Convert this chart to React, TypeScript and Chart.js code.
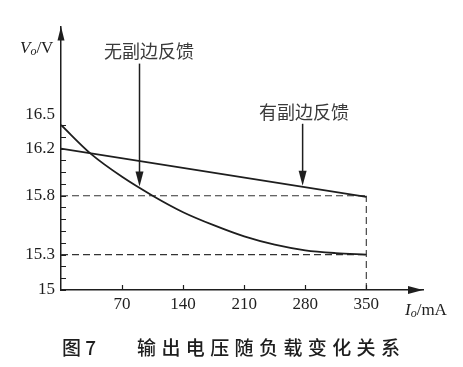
import React, { useEffect, useRef } from 'react';
import { Chart, LineController, LineElement, PointElement, LinearScale } from 'chart.js';

// ---- data ----
const LOAD_MA = [0, 35, 70, 105, 140, 175, 210, 245, 280, 315, 350];
const VOUT_NO_FEEDBACK = [16.5, 16.15, 15.96, 15.8, 15.66, 15.55, 15.455, 15.385, 15.337, 15.313, 15.3];
const LOAD_FEEDBACK = [0, 350];
const VOUT_FEEDBACK = [16.2, 15.79];
const GUIDE_LEVELS = [15.8, 15.3];
const GUIDE_LOAD_END = 350;
const X_TICKS = [70, 140, 210, 280, 350];
const Y_TICKS = [15, 15.1, 15.2, 15.3, 15.4, 15.5, 15.6, 15.7, 15.8, 15.9, 16, 16.1, 16.2, 16.35, 16.5];
const Y_TICK_LABELS = [15, 15.3, 15.8, 16.2, 16.5];
const X_MIN = 0;
const X_MAX = 415;
const Y_MIN = 15;
const Y_MAX = 17.336;
// the reference's y axis is compressed between 16.2 and 16.5
const Y_BREAK_LOW = 16.2;
const Y_BREAK_HIGH = 16.5;
const Y_BREAK_RATIO = 2 / 3;

const ANNOTATIONS = [
  { text: '无副边反馈', load: 90, series: 'none', labelDx: 9.5, labelRise: 135 },
  { text: '有副边反馈', load: 277, series: 'fb', labelDx: 1.5, labelRise: 74 },
];
const CAPTION_FIG = '图 7';
const CAPTION_TEXT = '输出电压随负载变化关系';

const INK = '#1e1e1e';

function toVisual(v: number) {
  if (v <= Y_BREAK_LOW) return v;
  const hiV = Y_BREAK_LOW + (Y_BREAK_HIGH - Y_BREAK_LOW) * Y_BREAK_RATIO;
  if (v <= Y_BREAK_HIGH) return Y_BREAK_LOW + (v - Y_BREAK_LOW) * Y_BREAK_RATIO;
  return hiV + (v - Y_BREAK_HIGH);
}
function fromVisual(u: number) {
  const hiV = Y_BREAK_LOW + (Y_BREAK_HIGH - Y_BREAK_LOW) * Y_BREAK_RATIO;
  if (u <= Y_BREAK_LOW) return u;
  if (u <= hiV) return Y_BREAK_LOW + (u - Y_BREAK_LOW) / Y_BREAK_RATIO;
  return Y_BREAK_HIGH + (u - hiV);
}

class BrokenLinearScale extends LinearScale {
  static id = 'brokenLinear';
  static defaults = LinearScale.defaults;
  getPixelForValue(value: any) {
    if (value === null || value === undefined) return NaN;
    const a = toVisual(this.min);
    const b = toVisual(this.max);
    return this.getPixelForDecimal((toVisual(value) - a) / (b - a));
  }
  getValueForPixel(pixel: number) {
    const a = toVisual(this.min);
    const b = toVisual(this.max);
    return fromVisual(a + this.getDecimalForPixel(pixel) * (b - a));
  }
}

Chart.register(LineController, LineElement, PointElement, LinearScale, BrokenLinearScale as any);

function interp(xs: number[], ys: number[], x: number) {
  for (let i = 0; i < xs.length - 1; i++) {
    if (x >= xs[i] && x <= xs[i + 1]) {
      const t = (x - xs[i]) / (xs[i + 1] - xs[i]);
      return ys[i] + t * (ys[i + 1] - ys[i]);
    }
  }
  return ys[ys.length - 1];
}

function drawSubscriptTitle(ctx: CanvasRenderingContext2D, x: number, y: number, main: string, sub: string, rest: string) {
  ctx.textBaseline = 'alphabetic';
  ctx.textAlign = 'left';
  ctx.font = 'italic 17px "Liberation Serif"';
  ctx.fillText(main, x, y);
  let cx = x + ctx.measureText(main).width;
  ctx.font = 'italic 12px "Liberation Serif"';
  ctx.fillText(sub, cx, y + 2);
  cx += ctx.measureText(sub).width;
  ctx.font = '17px "Liberation Serif"';
  ctx.fillText(rest, cx, y);
}

const decorPlugin = {
  id: 'decor',
  afterDraw(chart: any) {
    const { ctx } = chart;
    const { left, right, top, bottom } = chart.chartArea;
    const xs = chart.scales.x;
    const ys = chart.scales.y;
    ctx.save();
    ctx.strokeStyle = INK;
    ctx.fillStyle = INK;
    ctx.lineWidth = 1.2;

    // inward tick marks
    ctx.beginPath();
    ys.ticks.forEach((t: any) => {
      const p = Math.round(ys.getPixelForValue(t.value)) + 0.5;
      ctx.moveTo(left, p);
      ctx.lineTo(left + 5, p);
    });
    xs.ticks.forEach((t: any) => {
      const p = Math.round(xs.getPixelForValue(t.value)) + 0.5;
      ctx.moveTo(p, bottom);
      ctx.lineTo(p, bottom - 5);
    });
    ctx.stroke();

    // axis arrow heads
    ctx.beginPath();
    ctx.moveTo(left, top);
    ctx.lineTo(left - 3.5, top + 14);
    ctx.lineTo(left + 3.5, top + 14);
    ctx.closePath();
    ctx.fill();
    ctx.beginPath();
    ctx.moveTo(right, bottom);
    ctx.lineTo(right - 15, bottom - 4);
    ctx.lineTo(right - 15, bottom + 4);
    ctx.closePath();
    ctx.fill();

    // axis titles
    drawSubscriptTitle(ctx, left - 41, top + 27, 'V', 'o', '/V');
    drawSubscriptTitle(ctx, right - 18, bottom + 25, 'I', 'o', '/mA');

    // annotation arrows
    ANNOTATIONS.forEach((a) => {
      const v = a.series === 'none'
        ? interp(LOAD_MA, VOUT_NO_FEEDBACK, a.load)
        : interp(LOAD_FEEDBACK, VOUT_FEEDBACK, a.load);
      const px = xs.getPixelForValue(a.load);
      const tip = ys.getPixelForValue(v) - 1;
      const labelY = tip - a.labelRise;
      ctx.fillStyle = '#3a3a3a';
      ctx.font = '18px "Noto Sans CJK SC"';
      ctx.textAlign = 'center';
      ctx.textBaseline = 'middle';
      ctx.fillText(a.text, px + a.labelDx, labelY);
      ctx.strokeStyle = INK;
      ctx.fillStyle = INK;
      ctx.lineWidth = 1.5;
      ctx.beginPath();
      ctx.moveTo(px, labelY + 12);
      ctx.lineTo(px, tip - 10);
      ctx.stroke();
      ctx.beginPath();
      ctx.moveTo(px, tip);
      ctx.lineTo(px - 4, tip - 15);
      ctx.lineTo(px + 4, tip - 15);
      ctx.closePath();
      ctx.fill();
    });

    // caption
    ctx.fillStyle = INK;
    ctx.font = '500 19px "Noto Sans CJK SC"';
    ctx.textAlign = 'left';
    ctx.textBaseline = 'middle';
    ctx.fillText(CAPTION_FIG, left + 1, 348);
    (ctx as any).letterSpacing = '5.4px';
    ctx.fillText(CAPTION_TEXT, left + 76, 348);
    (ctx as any).letterSpacing = '0px';
    ctx.restore();
  },
};

export default function App() {
  const ref = useRef<HTMLCanvasElement | null>(null);

  useEffect(() => {
    if (!ref.current) return;
    const noFb = LOAD_MA.map((x, i) => ({ x, y: VOUT_NO_FEEDBACK[i] }));
    const fb = LOAD_FEEDBACK.map((x, i) => ({ x, y: VOUT_FEEDBACK[i] }));
    const guides = GUIDE_LEVELS.map((lvl) => ({
      data: [{ x: X_MIN, y: lvl }, { x: GUIDE_LOAD_END, y: lvl }],
    }));
    const vGuide = [{ x: GUIDE_LOAD_END, y: Y_MIN }, { x: GUIDE_LOAD_END, y: Math.max(...GUIDE_LEVELS) }];

    const dashed = {
      borderColor: '#333',
      borderWidth: 1.1,
      borderDash: [7, 4],
      pointRadius: 0,
      fill: false,
    };

    const chart = new Chart(ref.current, {
      type: 'line',
      data: {
        datasets: [
          { label: '无副边反馈', data: noFb, borderColor: INK, borderWidth: 1.8, pointRadius: 0, cubicInterpolationMode: 'monotone', fill: false },
          { label: '有副边反馈', data: fb, borderColor: INK, borderWidth: 1.8, pointRadius: 0, fill: false },
          ...guides.map((g) => ({ ...dashed, data: g.data })),
          { ...dashed, data: vGuide },
        ] as any,
      },
      options: {
        animation: false,
        responsive: false,
        events: [],
        layout: { padding: { left: 0, top: 15, right: 40, bottom: 0 } },
        plugins: { legend: { display: false }, tooltip: { enabled: false } } as any,
        scales: {
          x: {
            type: 'linear',
            min: X_MIN,
            max: X_MAX,
            grid: { display: false, drawTicks: false },
            border: { display: true, color: INK, width: 1.5 },
            afterBuildTicks: (s: any) => { s.ticks = X_TICKS.map((v) => ({ value: v })); },
            afterFit: (s: any) => { s.height = 77; },
            ticks: {
              autoSkip: false,
              maxRotation: 0,
              padding: 4,
              color: INK,
              font: { family: '"Liberation Serif"', size: 17 },
              callback: (v: any) => String(v),
            },
          },
          y: {
            type: 'brokenLinear' as any,
            min: Y_MIN,
            max: Y_MAX,
            grid: { display: false, drawTicks: false },
            border: { display: true, color: INK, width: 1.5 },
            afterBuildTicks: (s: any) => { s.ticks = Y_TICKS.map((v) => ({ value: v })); },
            afterFit: (s: any) => { s.width = 61; },
            ticks: {
              autoSkip: false,
              padding: 6,
              color: INK,
              font: { family: '"Liberation Serif"', size: 17 },
              callback: (v: any) => {
                const hit = Y_TICK_LABELS.find((l) => Math.abs(l - v) < 1e-6);
                if (hit === undefined) return '';
                return hit === Y_BREAK_HIGH ? [String(hit), ''] : String(hit);
              },
            },
          } as any,
        },
      } as any,
      plugins: [decorPlugin],
    });
    return () => chart.destroy();
  }, []);

  return (
    <div style={{ position: 'fixed', left: 0, top: 0, width: 463, height: 367, background: '#fff' }}>
      <canvas ref={ref} width={463} height={367} style={{ display: 'block', width: 463, height: 367 }} />
    </div>
  );
}
